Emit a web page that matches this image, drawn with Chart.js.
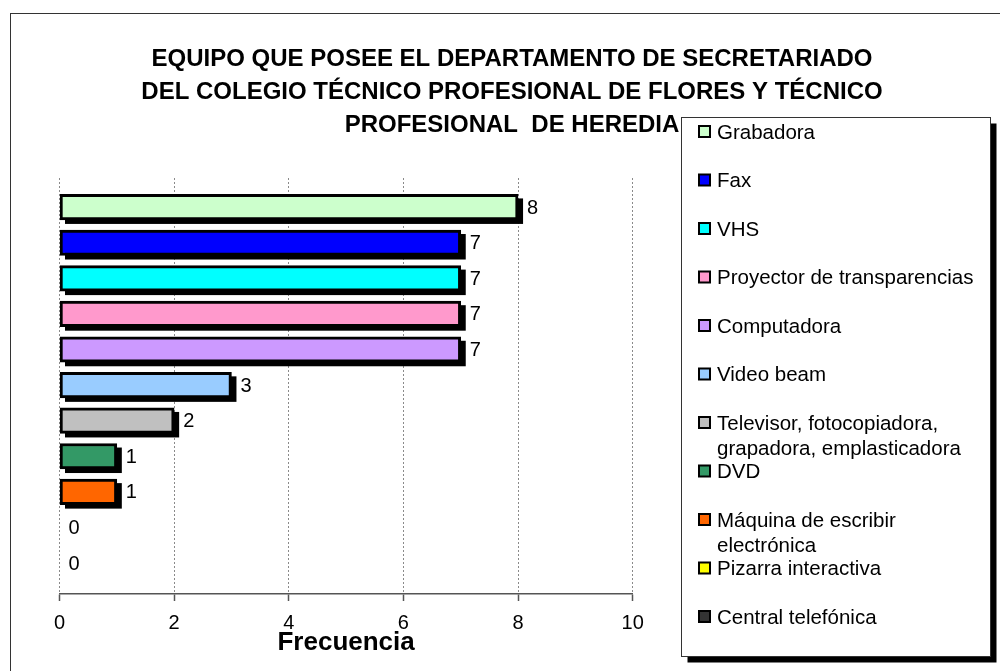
<!DOCTYPE html>
<html>
<head>
<meta charset="utf-8">
<script src="https://cdn.jsdelivr.net/npm/chart.js@4"></script>
<style>
  html, body { margin: 0; padding: 0; background: #fff; overflow: hidden; }
  #wrap { width: 1000px; height: 671px; }
</style>
</head>
<body>
<div id="wrap"><canvas id="c" width="1000" height="671"></canvas></div>
<script>
// ---- data ----
const titleLines = [
  'EQUIPO QUE POSEE EL DEPARTAMENTO DE SECRETARIADO',
  'DEL COLEGIO TÉCNICO PROFESIONAL DE FLORES Y TÉCNICO',
  'PROFESIONAL  DE HEREDIA'
];
const categories = [
  ['Grabadora'],
  ['Fax'],
  ['VHS'],
  ['Proyector de transparencias'],
  ['Computadora'],
  ['Video beam'],
  ['Televisor, fotocopiadora,', 'grapadora, emplasticadora'],
  ['DVD'],
  ['Máquina de escribir', 'electrónica'],
  ['Pizarra interactiva'],
  ['Central telefónica']
];
const values = [8, 7, 7, 7, 7, 3, 2, 1, 1, 0, 0];
const colors = ['#CCFFCC', '#0000FF', '#00FFFF', '#FF99CC', '#CC99FF', '#99CCFF',
                '#C0C0C0', '#339966', '#FF6600', '#FFFF00', '#333333'];
const xTickMin = 0, xTickMax = 10, xTickStep = 2;
const axisTitle = 'Frecuencia';

const FONT = "'Liberation Sans', Arial, sans-serif";

// background + outer frame
const framePlugin = {
  id: 'frame',
  beforeDraw(chart) {
    const ctx = chart.ctx;
    ctx.save();
    ctx.fillStyle = '#fff';
    ctx.fillRect(0, 0, chart.width, chart.height);
    ctx.strokeStyle = '#333';
    ctx.lineWidth = 1;
    ctx.strokeRect(10.5, 13.5, 1100, 1000);
    ctx.restore();
  }
};

// bar shadows (behind bars) and value labels (after bars)
const barDecor = {
  id: 'barDecor',
  beforeDatasetsDraw(chart) {
    const ctx = chart.ctx;
    const meta = chart.getDatasetMeta(0);
    ctx.save();
    ctx.fillStyle = '#000';
    meta.data.forEach(bar => {
      const p = bar.getProps(['x', 'y', 'base', 'height'], true);
      if (Math.abs(p.x - p.base) < 0.5) return;
      ctx.fillRect(p.base + 5, p.y - p.height / 2 + 4, p.x - p.base, p.height);
    });
    ctx.restore();
  },
  afterDatasetsDraw(chart) {
    const ctx = chart.ctx;
    const meta = chart.getDatasetMeta(0);
    ctx.save();
    ctx.fillStyle = '#000';
    ctx.font = '20px ' + FONT;
    ctx.textAlign = 'left';
    ctx.textBaseline = 'middle';
    meta.data.forEach((bar, i) => {
      const p = bar.getProps(['x', 'y'], true);
      ctx.fillText(String(values[i]), p.x + 9, p.y + 1);
    });
    ctx.restore();
  }
};

// boxed legend on the right with shadow
const boxLegend = {
  id: 'boxLegend',
  afterDraw(chart) {
    const ctx = chart.ctx;
    const bx = 681.5, by = 117.5, bw = 309, bh = 539;
    ctx.save();
    ctx.fillStyle = '#000';
    ctx.fillRect(bx + 6, by + 6, bw, bh);
    ctx.fillStyle = '#fff';
    ctx.fillRect(bx, by, bw, bh);
    ctx.strokeStyle = '#333';
    ctx.lineWidth = 1;
    ctx.strokeRect(bx, by, bw, bh);
    const ds = chart.data.datasets[0];
    ctx.font = '20.5px ' + FONT;
    ctx.textAlign = 'left';
    ctx.textBaseline = 'middle';
    categories.forEach((lines, i) => {
      const ty = 132 + i * 48.5;
      ctx.fillStyle = '#000';
      ctx.fillRect(698, ty - 7, 13, 13);
      ctx.fillStyle = ds.backgroundColor[i];
      ctx.fillRect(700, ty - 5, 9, 9);
      ctx.fillStyle = '#000';
      lines.forEach((ln, k) => ctx.fillText(ln, 717, ty + 1 + k * 25));
    });
    ctx.restore();
  }
};

new Chart(document.getElementById('c'), {
  type: 'bar',
  data: {
    datasets: [{
      label: 'Frecuencia',
      data: values.map((v, i) => ({ x: v, y: i })),
      backgroundColor: colors,
      borderColor: '#000',
      borderWidth: 3,
      borderSkipped: false,
      barThickness: 25.5
    }]
  },
  plugins: [framePlugin, barDecor, boxLegend],
  options: {
    indexAxis: 'y',
    responsive: false,
    maintainAspectRatio: false,
    devicePixelRatio: 1,
    animation: false,
    layout: { padding: { left: 24, right: 0, top: 0, bottom: 0 } },
    plugins: {
      legend: { display: false },
      tooltip: { enabled: false },
      title: {
        display: true,
        text: titleLines,
        color: '#000',
        font: { family: FONT, size: 24, weight: 'bold', lineHeight: 1.375 },
        padding: { top: 43, bottom: 36 }
      }
    },
    scales: {
      x: {
        type: 'linear',
        position: 'bottom',
        min: xTickMin,
        max: xTickMax,
        ticks: { stepSize: xTickStep, color: '#000', font: { family: FONT, size: 20 }, padding: 10, maxRotation: 0 },
        grid: { color: '#8a8a8a', lineWidth: 1, tickLength: 7, tickColor: '#555', tickWidth: 1.5 },
        border: { display: true, color: '#555', width: 1.5, dash: [2, 2] },
        title: {
          display: true,
          text: axisTitle,
          color: '#000',
          font: { family: FONT, size: 26, weight: 'bold', lineHeight: 1 },
          padding: { top: 0, bottom: 15.5 }
        },
        afterFit(s) { s.height = 77; }
      },
      y: {
        type: 'linear',
        reverse: true,
        offset: false,
        min: -0.82,
        max: 10.87,
        ticks: { display: false },
        grid: { display: false, offset: false },
        border: { display: false },
        afterFit(s) { s.width = 35.5; }
      },
      yR: {
        type: 'linear',
        axis: 'y',
        position: 'right',
        offset: false,
        ticks: { display: false },
        grid: { display: false },
        border: { display: false },
        afterFit(s) { s.width = 367.3; }
      }
    }
  }
});
</script>
</body>
</html>
